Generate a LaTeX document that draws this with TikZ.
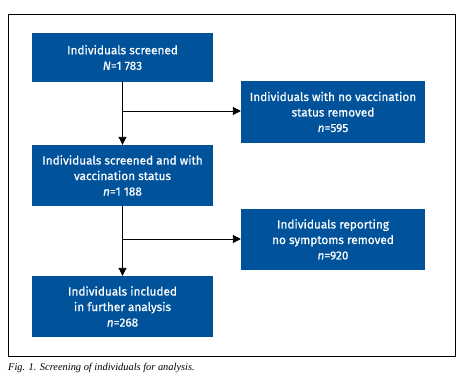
\documentclass[tikz,border=0pt]{standalone}
\usepackage{fontspec}
\setmainfont{Liberation Serif}
\newfontfamily\boxfont[FakeBold=0.6]{Fira Sans}
\usetikzlibrary{arrows.meta}
\definecolor{boxblue}{HTML}{00529B}
\tikzset{
  fbox/.style={draw=none, fill=boxblue, text=white, font=\boxfont\fontsize{11.8}{15.5}\selectfont,
    align=center, inner sep=0pt},
  lbox/.style={fbox, minimum width=181pt},
  rbox/.style={fbox, minimum width=184pt},
  conn/.style={line width=0.9pt, -{Triangle[length=8pt,width=8pt]}},
  plain/.style={line width=0.9pt}
}
\begin{document}
\begin{tikzpicture}[x=1pt,y=1pt]
\useasboundingbox (0,0) rectangle (466,-376);
\draw[line width=0.8pt] (8,-14) rectangle (455,-356);
\node[lbox, minimum height=49pt] (s) at (122.5,-57.5) {Individuals screened\\\textit{N}=1 783};
\node[rbox, minimum height=62pt] (r1) at (333,-112) {Individuals with no vaccination\\status removed\\\textit{n}=595};
\node[lbox, minimum height=61pt] (v) at (122.5,-175.5) {Individuals screened and with\\vaccination status\\\textit{n}=1 188};
\node[rbox, minimum height=61pt] (r2) at (333,-239.5) {Individuals reporting\\no symptoms removed\\\textit{n}=920};
\node[lbox, minimum height=61pt] (f) at (122.5,-306.5) {Individuals included\\in further analysis\\\textit{n}=268};
\coordinate (j1) at (122.5,-111);
\coordinate (j2) at (122.5,-239);
\draw[conn] (s) -- (v);
\draw[conn] (j1) -- (j1 -| r1.west);
\draw[conn] (v) -- (f);
\draw[conn] (j2) -- (j2 -| r2.west);
\node[anchor=west, inner sep=0pt, font=\itshape\fontsize{10.4}{11}\selectfont] (cap) at (8,-368) {Fig. 1. Screening of individuals for analysis.};
\end{tikzpicture}
\end{document}
